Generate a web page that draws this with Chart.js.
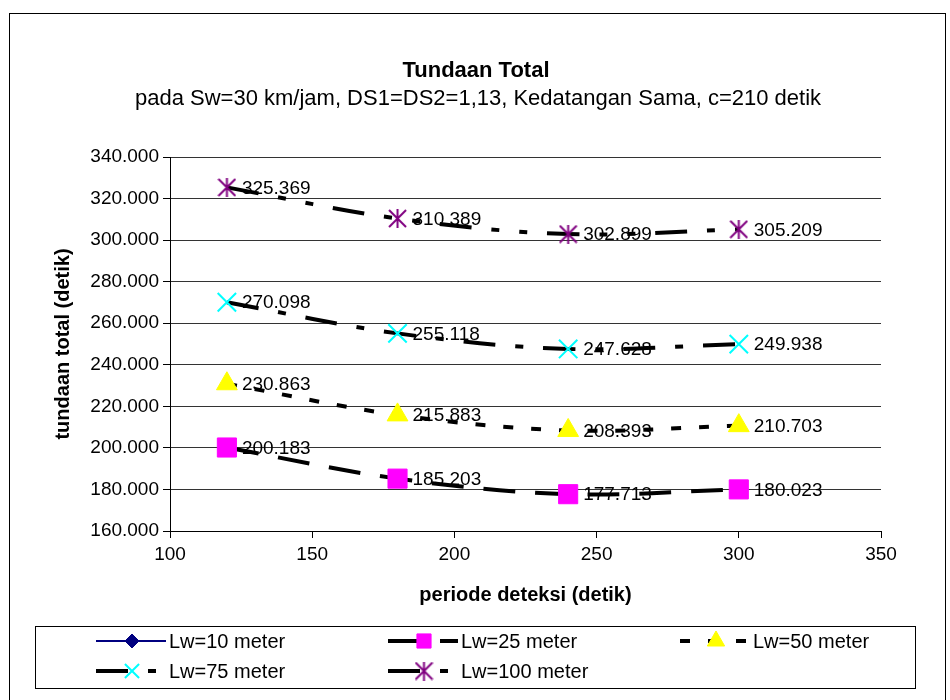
<!DOCTYPE html>
<html>
<head>
<meta charset="utf-8">
<title>Tundaan Total</title>
<script src="https://cdn.jsdelivr.net/npm/chart.js@4.4.1/dist/chart.umd.min.js"></script>
<style>
  body { margin: 0; background: #fff; }
  canvas { display: block; }
</style>
</head>
<body>
<canvas id="tundaanChart" width="950" height="700"></canvas>
<script>

// data
const periodeDeteksi = [ 120, 180, 240, 300 ];
const seriesNames = [ 'Lw=10 meter', 'Lw=25 meter', 'Lw=50 meter', 'Lw=75 meter', 'Lw=100 meter' ];
const lw10 = [];   // in the legend only, no marks visible on the plot
const lw25 = [ 200.183, 185.203, 177.713, 180.023 ];
const lw50 = [ 230.863, 215.883, 208.393, 210.703 ];
const lw75 = [ 270.098, 255.118, 247.628, 249.938 ];
const lw100 = [ 325.369, 310.389, 302.899, 305.209 ];
const yMin = 160, yMax = 340, yStep = 20;
const xMin = 100, xMax = 350, xStep = 50;

const FONT = '"Liberation Sans", Arial, sans-serif';

function toPoints( values ) {
    return values.map( ( v, i ) => ( { x: periodeDeteksi[ i ], y: v } ) );
}

function makeAsterisk( color, size ) {
    let c = document.createElement( 'canvas' );
    c.width = size;
    c.height = size;
    let g = c.getContext( '2d' );
    g.strokeStyle = color;
    g.lineWidth = 2;
    g.beginPath();
    g.moveTo( size / 2, 0 );
    g.lineTo( size / 2, size );
    g.moveTo( 1, 1 );
    g.lineTo( size - 1, size - 1 );
    g.moveTo( size - 1, 1 );
    g.lineTo( 1, size - 1 );
    g.stroke();
    return c;
}

function seriesStyle( name, values, opts ) {
    return Object.assign( {
        label: name,
        data: toPoints( values ),
        borderColor: '#000',
        borderWidth: 4,
        borderCapStyle: 'butt',
        tension: 0.35,
        pointBorderWidth: 1,
        pointHoverRadius: 0,
    }, opts );
}

const datasets = [
    seriesStyle( seriesNames[ 0 ], lw10, {
        borderColor: '#000080', borderWidth: 2, borderDash: [],
        pointStyle: 'rectRot', pointRadius: 7,
        pointBackgroundColor: '#000080', pointBorderColor: '#000080',
    } ),
    seriesStyle( seriesNames[ 1 ], lw25, {
        borderDash: [ 32, 20 ],
        pointStyle: 'rect', pointRadius: 13.5,
        pointBackgroundColor: '#ff00ff', pointBorderColor: '#ff00ff',
    } ),
    seriesStyle( seriesNames[ 2 ], lw50, {
        borderDash: [ 10, 18 ],
        pointStyle: 'triangle', pointRadius: 12,
        pointBackgroundColor: '#ffff00', pointBorderColor: '#ffff00',
    } ),
    seriesStyle( seriesNames[ 3 ], lw75, {
        borderDash: [ 32, 20, 8, 20 ],
        pointStyle: 'crossRot', pointRadius: 13, pointBorderWidth: 2,
        pointBackgroundColor: '#00ffff', pointBorderColor: '#00ffff',
    } ),
    seriesStyle( seriesNames[ 4 ], lw100, {
        borderDash: [ 32, 20, 8, 20, 8, 20 ],
        pointStyle: makeAsterisk( '#800080', 19 ), pointRadius: 10,
        pointBackgroundColor: '#800080', pointBorderColor: '#800080',
    } ),
];

// value next to each marker
const dataLabels = {
    id: 'dataLabels',
    afterDatasetsDraw( chart ) {
        let ctx = chart.ctx;
        ctx.save();
        ctx.font = '19px ' + FONT;
        ctx.fillStyle = '#000';
        ctx.textBaseline = 'middle';
        chart.data.datasets.forEach( function( ds, i ) {
            let meta = chart.getDatasetMeta( i );
            meta.data.forEach( function( pt, j ) {
                ctx.fillText( ds.data[ j ].y.toFixed( 3 ), pt.x + 15, pt.y + 1 );
            } );
        } );
        ctx.restore();
    }
};

// frame, titles and the boxed legend
const decorations = {
    id: 'decorations',
    afterDraw( chart ) {
        let ctx = chart.ctx;
        ctx.save();

        ctx.strokeStyle = '#000';
        ctx.lineWidth = 1;
        ctx.strokeRect( 9.5, 13.5, 936, 700 );

        ctx.fillStyle = '#000';
        ctx.textAlign = 'center';
        ctx.textBaseline = 'middle';
        ctx.font = 'bold 22px ' + FONT;
        ctx.fillText( 'Tundaan Total', 476, 71 );
        ctx.font = '22px ' + FONT;
        ctx.fillText( 'pada Sw=30 km/jam, DS1=DS2=1,13, Kedatangan Sama, c=210 detik', 478, 99 );

        // legend box
        ctx.strokeRect( 35.5, 626.5, 880, 62 );
        const cols = [ 96, 388, 680 ];
        const rows = [ 641, 671 ];
        ctx.textAlign = 'left';
        ctx.font = '20px ' + FONT;
        chart.data.datasets.forEach( function( ds, i ) {
            let x0 = cols[ i % 3 ];
            let y = rows[ Math.floor( i / 3 ) ];
            ctx.save();
            ctx.strokeStyle = ds.borderColor;
            ctx.lineWidth = ds.borderWidth;
            ctx.setLineDash( ds.borderDash || [] );
            ctx.beginPath();
            ctx.moveTo( x0, y );
            ctx.lineTo( x0 + 70, y );
            ctx.stroke();
            ctx.restore();
            ctx.save();
            ctx.fillStyle = ds.pointBackgroundColor;
            ctx.strokeStyle = ds.pointBorderColor;
            ctx.lineWidth = ds.pointBorderWidth;
            Chart.helpers.drawPoint( ctx, {
                pointStyle: ds.pointStyle,
                radius: Math.min( ds.pointRadius, 10 ),
                rotation: 0,
                borderWidth: ds.pointBorderWidth,
            }, x0 + 36, y );
            ctx.restore();
            ctx.fillStyle = '#000';
            ctx.fillText( ds.label, x0 + 73, y + 1 );
        } );

        ctx.restore();
    }
};

let ctx = document.getElementById( 'tundaanChart' ).getContext( '2d' );
let tundaanChart = new Chart( ctx, {
    type: 'line',
    data: { datasets: datasets },
    options: {
        responsive: false,
        animation: false,
        events: [],
        layout: {
            padding: { left: 51, top: 157, right: 69, bottom: 89 },
        },
        plugins: {
            legend: { display: false },
            title: { display: false },
            tooltip: { enabled: false },
        },
        scales: {
            x: {
                type: 'linear',
                min: xMin,
                max: xMax,
                afterFit: function( scale ) { scale.height = 80; },
                ticks: {
                    stepSize: xStep,
                    color: '#000',
                    padding: 5,
                    maxRotation: 0,
                    font: { family: FONT, size: 19 },
                },
                grid: {
                    drawOnChartArea: false,
                    tickLength: 7,
                    color: '#000',
                },
                border: { color: '#000', width: 1 },
                title: {
                    display: true,
                    text: 'periode deteksi (detik)',
                    color: '#000',
                    padding: { top: 0, bottom: 4 },
                    font: { family: FONT, size: 20, weight: 'bold' },
                },
            },
            y: {
                min: yMin,
                max: yMax,
                afterFit: function( scale ) { scale.width = 119; },
                ticks: {
                    stepSize: yStep,
                    color: '#000',
                    padding: 4,
                    font: { family: FONT, size: 19 },
                    callback: function( v ) { return v.toFixed( 3 ); },
                },
                grid: {
                    color: '#333',
                    tickLength: 7,
                    tickColor: '#000',
                },
                border: { color: '#000', width: 1 },
                title: {
                    display: true,
                    text: 'tundaan total (detik)',
                    color: '#000',
                    padding: 0,
                    font: { family: FONT, size: 20, weight: 'bold' },
                },
            },
        },
    },
    plugins: [ dataLabels, decorations ],
} );

</script>
</body>
</html>
